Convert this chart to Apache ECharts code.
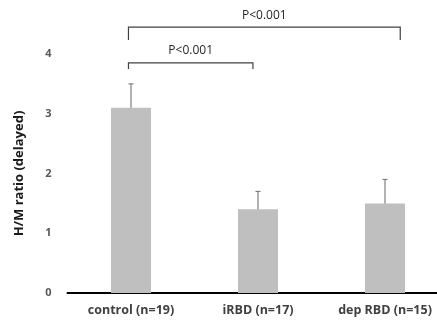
<!DOCTYPE html>
<html><head><meta charset="utf-8">
<script src="https://cdn.jsdelivr.net/npm/echarts@6/dist/echarts.min.js"></script>
<style>html,body{margin:0;padding:0;background:#fff}#c{width:437px;height:324px}</style>
</head><body><div id="c"></div>
<script>
var categories = ['control (n=19)', 'iRBD (n=17)', 'dep RBD (n=15)'];
var means = [3.1, 1.4, 1.5];
var errLow = [2.7, 1.1, 1.1];
var errHigh = [3.5, 1.7, 1.9];
var yTicks = [0, 1, 2, 3, 4];
// brackets: [xStart, xEnd, yLevel, label]
var bracketX0 = [-0.02, -0.02];
var bracketX1 = [0.96, 2.12];
var bracketY = [3.85, 4.45];
var bracketText = ['P<0.001', 'P<0.001'];

var font = '"Open Sans", "Liberation Sans", sans-serif';
var chart = echarts.init(document.getElementById('c'));
var errData = categories.map(function(c, i){ return [i, errLow[i], errHigh[i]]; });
var brData = bracketY.map(function(y, i){ return [bracketX0[i], bracketX1[i], y, bracketText[i]]; });

chart.setOption({
  animation: false,
  grid: {left: 67.5, width: 381, top: 54, height: 239, containLabel: false, outerBoundsMode: 'none'},
  xAxis: [{
    type: 'category', data: categories,
    axisLine: {lineStyle: {color: '#000', width: 2}},
    axisTick: {show: false},
    axisLabel: {color: '#404040', fontWeight: 'bold', fontSize: 12.5, fontFamily: font, margin: 11}
  }, {
    type: 'value', min: -0.5, max: 2.5, show: false
  }],
  yAxis: {
    type: 'value', min: 0, max: 4, interval: 1,
    name: 'H/M ratio (delayed)', nameLocation: 'middle', nameGap: 42,
    nameTextStyle: {color: '#1a1a1a', fontWeight: 'bold', fontSize: 13, fontFamily: font},
    axisLine: {show: false}, axisTick: {show: false}, splitLine: {show: false},
    axisLabel: {color: '#595959', fontWeight: 'bold', fontSize: 11, fontFamily: font, margin: 16,
      formatter: function(v){ return yTicks.indexOf(v) >= 0 ? String(v) : ''; }}
  },
  series: [{
    type: 'bar', data: means, barWidth: 40, itemStyle: {color: '#bfbfbf'}
  }, {
    type: 'custom', xAxisIndex: 0, data: errData,
    renderItem: function(params, api){
      var x = api.value(0);
      var lo = api.coord([x, api.value(1)]);
      var hi = api.coord([x, api.value(2)]);
      var st = {stroke: '#7f7f7f', lineWidth: 1.2};
      return {type: 'group', children: [
        {type: 'line', shape: {x1: lo[0], y1: lo[1], x2: hi[0], y2: hi[1]}, style: st},
        {type: 'line', shape: {x1: lo[0]-2.5, y1: lo[1], x2: lo[0]+2.5, y2: lo[1]}, style: st},
        {type: 'line', shape: {x1: hi[0]-2.5, y1: hi[1], x2: hi[0]+2.5, y2: hi[1]}, style: st}
      ]};
    }
  }, {
    type: 'custom', xAxisIndex: 1, data: brData, clip: false,
    renderItem: function(params, api){
      var a = api.coord([api.value(0), api.value(2)]);
      var b = api.coord([api.value(1), api.value(2)]);
      var st = {stroke: '#404040', lineWidth: 1.2, fill: null};
      var drop = 6 + params.dataIndex * 7;
      return {type: 'group', children: [
        {type: 'polyline', shape: {points: [[a[0], a[1]+drop], [a[0], a[1]], [b[0], b[1]], [b[0], b[1]+drop]]}, style: st},
        {type: 'text', style: {text: api.value(3), x: (a[0]+b[0])/2, y: a[1]-12, align: 'center', verticalAlign: 'middle',
          fill: '#262626', fontSize: 12, fontFamily: font}}
      ]};
    }
  }]
});
</script></body></html>
